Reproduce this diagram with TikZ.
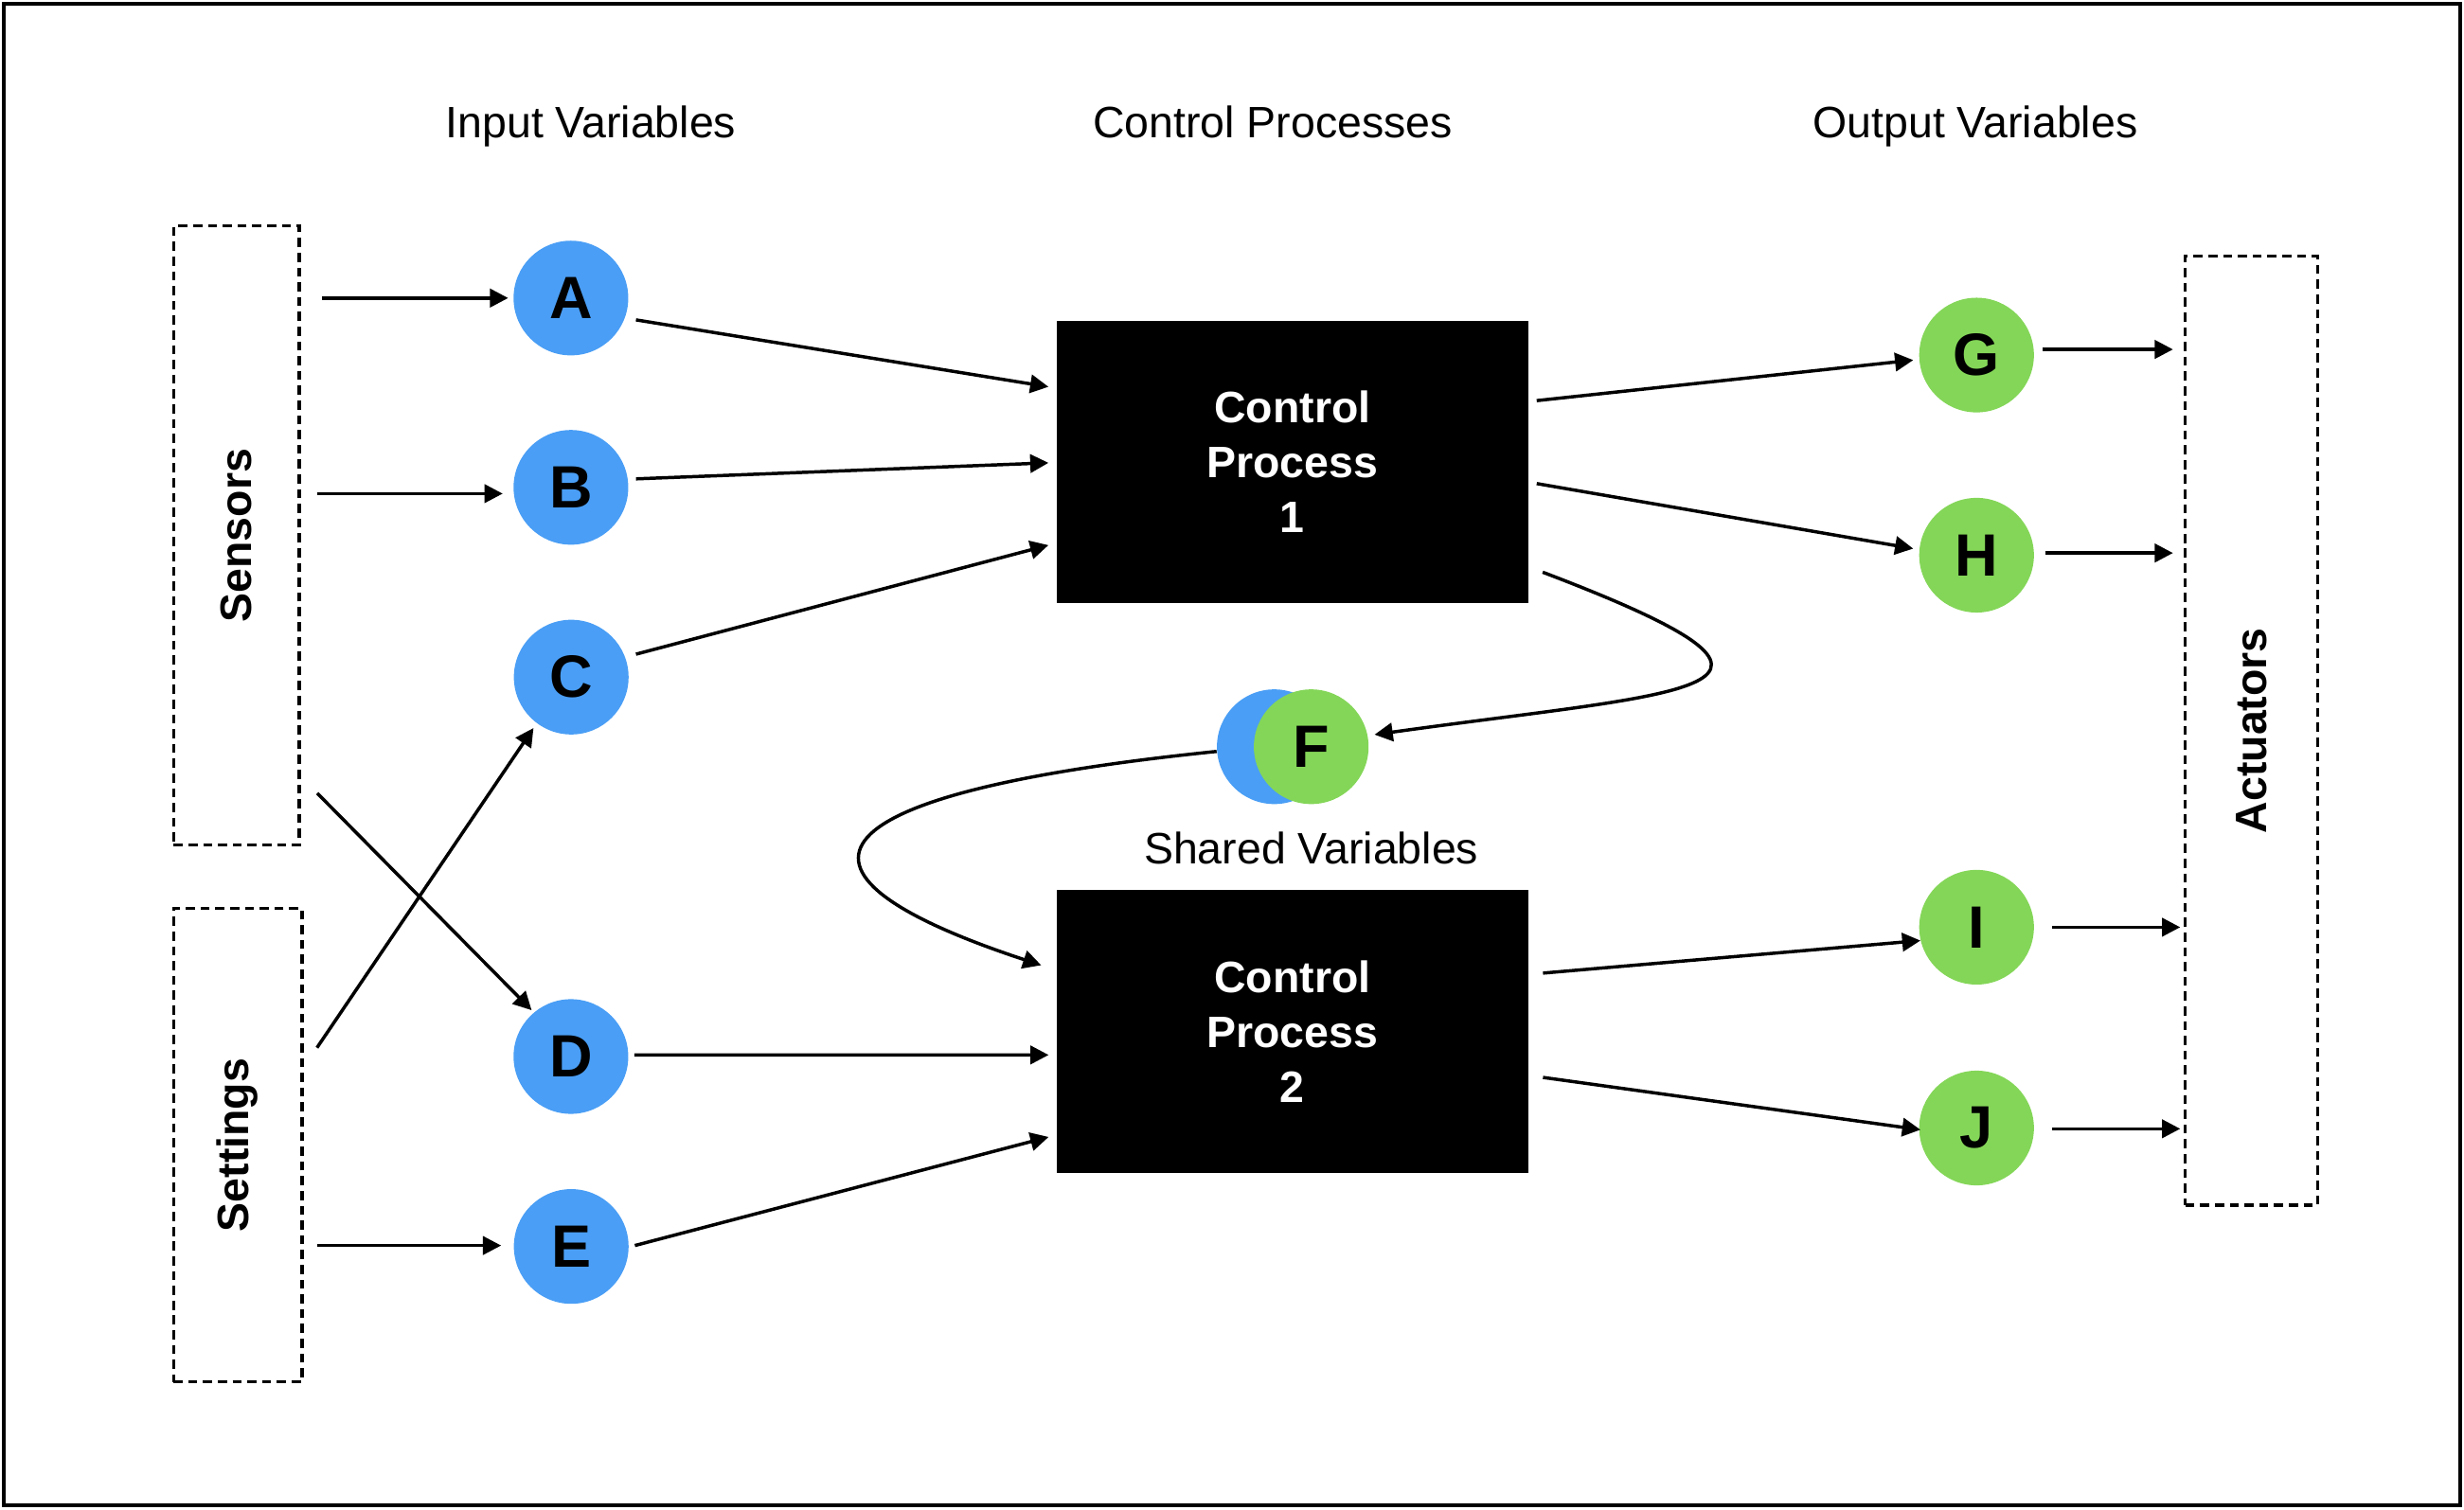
\documentclass[tikz,border=0pt]{standalone}
\usepackage{fontspec}
\setmainfont{Liberation Sans}
\usetikzlibrary{arrows.meta,calc}
\definecolor{cblue}{RGB}{74,158,245}
\definecolor{cgreen}{RGB}{132,214,88}
\begin{document}
\begin{tikzpicture}[x=0.5pt,y=-0.5pt,
  arr/.style={line width=1.05pt,-{Triangle[length=5.8pt,width=5.8pt]}},
  var/.style={circle,minimum size=36.5pt,inner sep=0pt,font=\fontsize{19}{22}\selectfont\bfseries},
  invar/.style={var,fill=cblue},
  outvar/.style={var,fill=cgreen},
  proc/.style={fill=black,minimum width=150pt,minimum height=90pt,inner sep=0pt,text=white,align=center,font=\fontsize{14}{17.5}\selectfont\bfseries},
  ext/.style={draw,line width=1pt,dash pattern=on 2.9pt off 1.8pt,inner sep=0pt},
  extlabel/.style={rotate=90,font=\fontsize{14}{17}\selectfont\bfseries},
  ttl/.style={anchor=base,font=\fontsize{14}{17}\selectfont}]
\useasboundingbox (0,0) rectangle (1568,960.6);
\draw[line width=1.2pt] (2.4,2.4) rectangle (1565.6,958.2);

% titles
\node[ttl] (tin) at (376,87.4) {Input Variables};
\node[ttl] (tcp) at (810,87.4) {Control Processes};
\node[ttl] (tout) at (1257,87.4) {Output Variables};
\node[ttl] (tsh) at (834.4,549.6) {Shared Variables};

% external boxes
\node[ext,minimum width=40pt,minimum height=197pt] (sens) at (150.5,340.9) {};
\node[extlabel] (sensl) at (sens) {Sensors};
\node[ext,minimum width=40.9pt,minimum height=150.6pt] (set) at (151.3,728.9) {};
\node[extlabel] (setl) at (set) {Settings};
\node[ext,minimum width=42pt,minimum height=302.2pt] (act) at (1432.7,465) {};
\node[extlabel] (actl) at (act) {Actuators};

% variables
\node[invar] (A) at (363.3,189.7) {A};
\node[invar] (B) at (363.3,310.2) {B};
\node[invar] (C) at (363.5,431) {C};
\node[invar] (D) at (363.3,672.5) {D};
\node[invar] (E) at (363.5,793.4) {E};
\node[outvar] (G) at (1257.8,226) {G};
\node[outvar] (H) at (1257.8,353.4) {H};
\node[outvar] (I) at (1257.8,590.2) {I};
\node[outvar] (J) at (1257.8,718) {J};
\node[invar] (Fb) at (810.9,475.3) {};
\node[outvar] (Fg) at (834.4,475.3) {F};

% processes
\node[proc] (cp1) at (822.5,294) {Control\\Process\\1};
\node[proc] (cp2) at (822.5,656.7) {Control\\Process\\2};

% sensors / settings to inputs
\draw[arr] ($(sens.east|-A)+(13.4,0)$) -- ($(A.west)+(-3,0)$);
\draw[arr] ($(sens.east|-B)+(10.3,4)$) -- ($(B.west)+(-6.5,4)$);
\draw[arr] ($(sens.east)+(10.4,164)$) -- ($(D)+(-25,-29.5)$);
\draw[arr] ($(set.east)+(8.5,-62)$) -- ($(C)+(-24,32.4)$);
\draw[arr] ($(set.east|-E)+(8.5,-0.6)$) -- ($(E.west)+(-7.7,-0.6)$);

% inputs to processes
\draw[arr] ($(A)+(41.4,13.9)$) -- ($(cp1.west)+(-4.9,-47.8)$);
\draw[arr] ($(B)+(41.4,-5.4)$) -- ($(cp1.west)+(-4.9,0.6)$);
\draw[arr] ($(C)+(41.2,-14.6)$) -- ($(cp1.west)+(-4.9,53)$);
\draw[arr] ($(D)+(40.3,-1)$) -- ($(cp2.west)+(-4.8,14.8)$);
\draw[arr] ($(E)+(40.5,-0.6)$) -- ($(cp2.west)+(-4.8,67)$);

% processes to outputs
\draw[arr] ($(cp1.east)+(5,-39)$) -- ($(G.west)+(-3.4,3.2)$);
\draw[arr] ($(cp1.east)+(5,13.8)$) -- ($(H.west)+(-3.4,-4.2)$);
\draw[arr] ($(cp2.east)+(9,-37.3)$) -- ($(I.west)+(1.2,8.5)$);
\draw[arr] ($(cp2.east)+(9,29.1)$) -- ($(J.west)+(1.2,1.1)$);

% outputs to actuators
\draw[arr] ($(G.east)+(5,-3.6)$) -- ($(act.west|-G)+(-6.9,-3.6)$);
\draw[arr] ($(H.east)+(6.7,-1.4)$) -- ($(act.west|-H)+(-6.9,-1.4)$);
\draw[arr] ($(I.east)+(11.2,0)$) -- ($(act.west|-I)+(-2.3,0)$);
\draw[arr] ($(J.east)+(11.2,0.5)$) -- ($(act.west|-J)+(-2.3,0.5)$);

% shared variable loops
\draw[arr] ($(cp1.south east)+(8.8,-20.2)$) .. controls +(200,76) and +(200,-28) .. ($(Fg.east)+(3.4,-7.7)$);
\draw[arr] ($(Fb.west)+(0.2,3)$) .. controls +(-255,26) and +(-185,-61) .. ($(cp2.west)+(-9.5,-42.3)$);
\end{tikzpicture}
\end{document}
